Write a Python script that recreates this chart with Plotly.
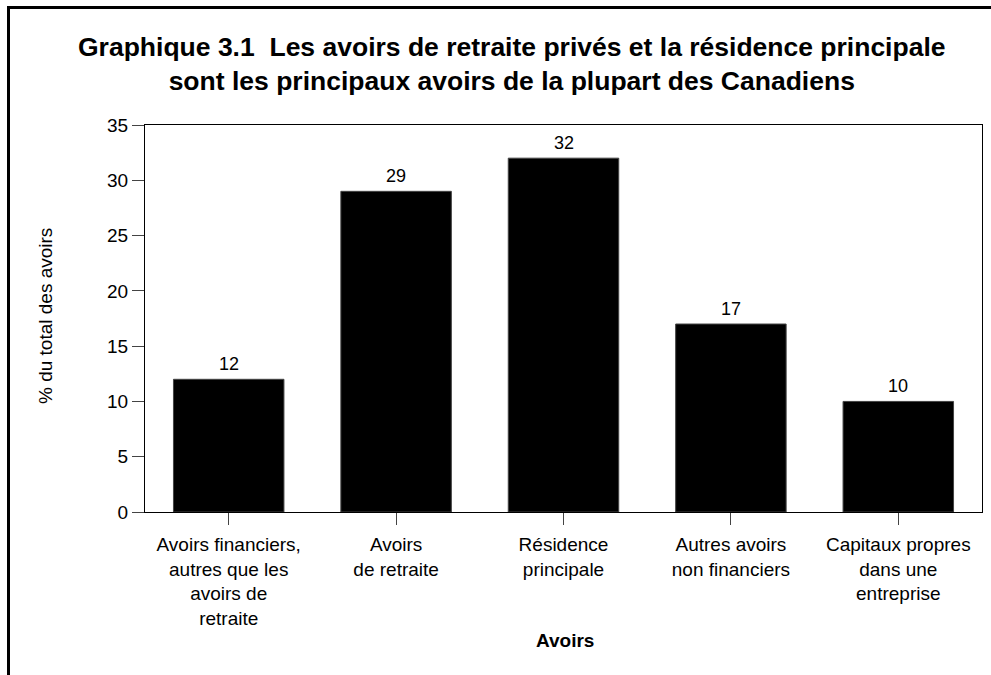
import plotly.graph_objects as go

categories = [
    "Avoirs financiers,<br>autres que les<br>avoirs de<br>retraite",
    "Avoirs<br>de retraite",
    "Résidence<br>principale",
    "Autres avoirs<br>non financiers",
    "Capitaux propres<br>dans une<br>entreprise",
]
values = [12, 29, 32, 17, 10]
y_ticks = [0, 5, 10, 15, 20, 25, 30, 35]

W, H = 991, 675
L, R, T, B = 145, 9, 125, 163
pw, ph = W - L - R, H - T - B
FONT = "Liberation Sans, Arial"

def px_x(p):
    return (p - L) / pw

def px_y(p):
    return (H - B - p) / ph

fig = go.Figure()
fig.add_trace(go.Bar(
    x=list(range(len(categories))), y=values,
    marker=dict(color="black", line=dict(color="#444", width=1)),
    width=0.66, hoverinfo="skip",
))

for i, v in enumerate(values):
    fig.add_annotation(x=i, y=v, text=str(v), showarrow=False,
                       yanchor="bottom", yshift=3,
                       font=dict(family=FONT, size=18, color="black"))

fig.add_annotation(xref="paper", yref="paper", x=px_x(512), y=px_y(64),
                   text="<b>Graphique 3.1  Les avoirs de retraite privés et la résidence principale<br>sont les principaux avoirs de la plupart des Canadiens</b>",
                   showarrow=False, xanchor="center", yanchor="middle",
                   font=dict(family=FONT, size=26.5, color="black"))

fig.add_annotation(xref="paper", yref="paper", x=px_x(565), y=px_y(640),
                   text="<b>Avoirs</b>", showarrow=False,
                   xanchor="center", yanchor="middle",
                   font=dict(family=FONT, size=19, color="black"))

fig.add_annotation(xref="paper", yref="paper", x=px_x(45), y=px_y(316),
                   text="% du total des avoirs", showarrow=False, textangle=-90,
                   xanchor="center", yanchor="middle",
                   font=dict(family=FONT, size=19, color="black"))

# outer frame (left and top)
fig.add_shape(type="line", xref="paper", yref="paper",
              x0=px_x(8.5), x1=px_x(8.5), y0=px_y(7), y1=px_y(680),
              line=dict(color="black", width=3))
fig.add_shape(type="line", xref="paper", yref="paper",
              x0=px_x(7), x1=px_x(995), y0=px_y(7.5), y1=px_y(7.5),
              line=dict(color="black", width=3))

fig.update_layout(
    width=W, height=H,
    margin=dict(l=L, r=R, t=T, b=B),
    paper_bgcolor="white", plot_bgcolor="white",
    showlegend=False,
    font=dict(family=FONT, size=19, color="black"),
    xaxis=dict(
        range=[-0.5, 4.5], tickmode="array",
        tickvals=list(range(len(categories))), ticktext=categories,
        ticks="outside", ticklen=12, tickcolor="#444", tickwidth=1,
        ticklabelstandoff=3,
        showline=True, linecolor="black", linewidth=1, mirror=True,
        showgrid=False, zeroline=False,
        tickfont=dict(size=19),
    ),
    yaxis=dict(
        range=[0, 35], tickmode="array", tickvals=y_ticks,
        ticks="outside", ticklen=12, tickcolor="#444", tickwidth=1,
        showline=True, linecolor="black", linewidth=1, mirror=True,
        showgrid=False, zeroline=False,
        tickfont=dict(size=19),
    ),
)

fig.write_html("out.html")
